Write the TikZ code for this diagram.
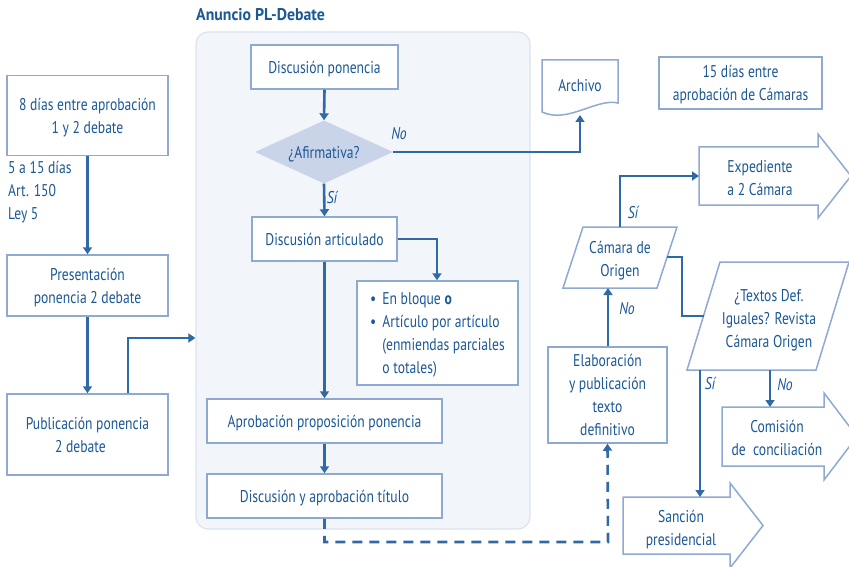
\documentclass[tikz,border=0pt]{standalone}
\usepackage{fontspec}
\setmainfont{PT Sans}[FakeStretch=0.8]
\newfontfamily\titlefont{PT Sans}[FakeStretch=0.93]
\usetikzlibrary{arrows.meta,shapes.geometric}
\definecolor{txt}{HTML}{1B5896}
\definecolor{bord}{HTML}{8EA9D2}
\definecolor{arrc}{HTML}{2F69A6}
\definecolor{cfill}{HTML}{F2F5FA}
\definecolor{cbord}{HTML}{DCE3EF}
\definecolor{dfill}{HTML}{C9D4E8}
\newcommand\fs{\fontsize{17}{23}\selectfont}
\begin{document}
\begin{tikzpicture}[x=1pt,y=-1pt,font=\fs,
  box/.style={draw=bord,line width=1.5pt,fill=white,text=txt,align=center,inner sep=0pt,text depth=0pt},
  shp/.style={draw=bord,line width=1.5pt,fill=white},
  tx/.style={text=txt,align=center,inner sep=0pt,text depth=0pt},
  conn/.style={draw=arrc,line width=2.6pt,-{Triangle[length=7pt,width=9pt]}},
  plain/.style={draw=arrc,line width=2.6pt},
  dconn/.style={draw=arrc,line width=2.6pt,dash pattern=on 10pt off 7pt,-{Triangle[length=7pt,width=9pt]}},
  lbl/.style={text=txt,font=\fs\itshape,inner sep=0pt}]
\useasboundingbox (0,0) rectangle (849,567);

% container
\node[draw=cbord,fill=cfill,line width=1.2pt,rounded corners=12pt,minimum width=334pt,minimum height=497pt,inner sep=0pt] (cont) at (363,280.5) {};
\node[anchor=west,text=txt,font=\fontsize{17}{20}\titlefont\bfseries,inner sep=0pt] (title) at (196,15) {Anuncio PL-Debate};

% left column
\node[box,minimum width=161pt,minimum height=80pt] (b8) at (87.5,115.5) {8 días entre aprobación\\1 y 2 debate};
\node[tx,anchor=north west,align=left] (ley) at (8,161) {5 a 15 días\\Art. 150\\Ley 5};
\node[box,minimum width=161pt,minimum height=61pt] (pres) at (87.5,285.5) {Presentación\\ponencia 2 debate};
\node[box,minimum width=161pt,minimum height=81pt] (publ) at (87.5,434.5) {Publicación ponencia\\2 debate\hspace*{14pt}};

% center column
\node[box,minimum width=147pt,minimum height=44pt] (dp) at (324.5,67) {Discusión ponencia};
\node[diamond,fill=dfill,text=txt,inner sep=0pt,aspect=2.2,minimum width=138pt,minimum height=63pt,text depth=0pt] (dia) at (324,152) {¿Afirmativa?};
\node[box,minimum width=145pt,minimum height=44pt] (da) at (324.5,239) {Discusión articulado};
\node[box,minimum width=161pt,minimum height=104pt,align=left] (bul) at (437.5,333)
  {\textbullet\hspace{6pt}En bloque \textbf{o}\\
   \textbullet\hspace{6pt}Artículo por artículo\\
   \phantom{\textbullet}\hspace{6pt}(enmiendas parciales\\
   \phantom{\textbullet}\hspace{6pt}o totales)};
\node[box,minimum width=235pt,minimum height=44pt] (ap) at (324.5,421) {Aprobación proposición ponencia};
\node[box,minimum width=235pt,minimum height=44pt] (dt) at (324.5,496) {Discusión y aprobación título};

% Archivo
\draw[shp] (542,60) -- (618,60) -- (618,103) .. controls (596,98) and (568,124) .. (542,112) -- cycle;
\node[tx] (arch) at (580,85) {Archivo};
\coordinate (archB) at (580,115);

% 15 dias
\node[box,minimum width=163pt,minimum height=52pt] (q15) at (740.5,83) {15 días entre\\aprobación de Cámaras};

% Expediente
\draw[shp] (699,147) -- (818,147) -- (818,134) -- (851,176) -- (818,218) -- (818,205) -- (699,205) -- cycle;
\node[tx] (exp) at (760,178) {Expediente\\a 2 Cámara};
\coordinate (expL) at (699,176);

% Camara de Origen
\draw[shp] (583,227) -- (677,227) -- (657,288) -- (563,288) -- cycle;
\node[tx] (cam) at (620,259) {Cámara de\\Origen};
\coordinate (camT) at (620,227);
\coordinate (camB) at (608,288);
\coordinate (camR) at (667,257);

% Elaboracion
\node[box,minimum width=119pt,minimum height=96pt] (elab) at (607.5,395) {Elaboración\\y publicación\\texto\\definitivo};

% Textos
\draw[shp] (720,262) -- (849,262) -- (816,370) -- (687,370) -- cycle;
\node[tx] (tex) at (769,318) {¿Textos Def.\\Iguales? Revista\\Cámara Origen};
\coordinate (texL) at (703.5,316);
\coordinate (texSi) at (700,370);
\coordinate (texNo) at (770,370);

% Comision
\draw[shp] (722,407) -- (824,407) -- (824,393) -- (857,436.5) -- (824,480) -- (824,466) -- (722,466) -- cycle;
\node[tx] (com) at (777,438) {Comisión\\de\ \ conciliación};
\coordinate (comT) at (770,407);

% Sancion
\draw[shp] (623,497) -- (730,497) -- (730,483) -- (763,525.5) -- (730,568) -- (730,554) -- (623,554) -- cycle;
\node[tx] (san) at (681,528) {Sanción\\presidencial};
\coordinate (sanT) at (700,497);

% connectors
\draw[conn] (b8.south) -- (pres.north);
\draw[conn] (pres.south) -- (publ.north);
\draw[conn] ([xshift=40.5pt]publ.north) |- (cont.west |- 0,338);
\draw[conn] (dp.south) -- (dia.north);
\draw[conn] (dia.south) -- (da.north);
\draw[conn] (da.east) -| ([xshift=-0.5pt]bul.north);
\draw[conn] (da.south) -- (ap.north);
\draw[conn] (ap.south) -- (dt.north);
\draw[conn] (dia.east) -| (archB);
\draw[dconn] (dt.south) |- (608,542) -- (elab.south);
\draw[conn] ([xshift=0.5pt]elab.north) -- (camB);
\draw[conn] (camT) |- (expL);
\draw[plain] (camR) -- (682,257) |- (texL);
\draw[conn] (texSi) -- (sanT);
\draw[conn] (texNo) -- (comT);

% labels
\node[lbl] (lno1) at (399,134) {No};
\node[lbl] (lsi1) at (332,197) {Sí};
\node[lbl] (lsi2) at (633,212) {Sí};
\node[lbl] (lno2) at (627,309) {No};
\node[lbl] (lsi3) at (710,383) {Sí};
\node[lbl] (lno3) at (785,385) {No};
\end{tikzpicture}
\end{document}
